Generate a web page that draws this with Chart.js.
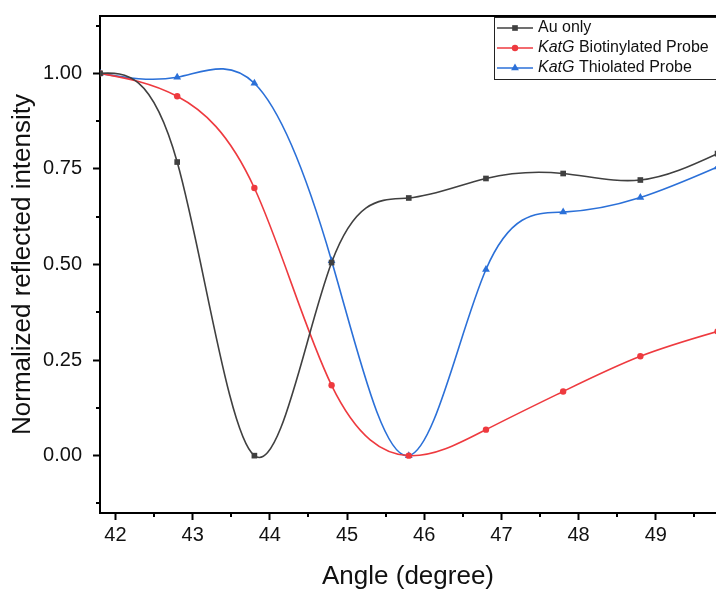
<!DOCTYPE html>
<html>
<head>
<meta charset="utf-8">
<script src="https://cdn.jsdelivr.net/npm/chart.js"></script>
<style>
  html, body { margin: 0; padding: 0; background: #fff; overflow: hidden; }
  #wrap { width: 716px; height: 590px; position: relative; }
  canvas { display: block; }
</style>
</head>
<body>
<div id="wrap"><canvas id="c" width="716" height="590"></canvas></div>
<script>
// ---- data ----
const angles       = [41.8, 42.8, 43.8, 44.8, 45.8, 46.8, 47.8, 48.8, 49.8];
const auOnly       = [1.00, 0.768, 0.00, 0.505, 0.674, 0.725, 0.738, 0.721, 0.79];
const biotinylated = [1.00, 0.94, 0.70, 0.184, 0.00, 0.068, 0.168, 0.26, 0.325];
const thiolated    = [1.00, 0.99, 0.974, 0.51, 0.00, 0.487, 0.637, 0.675, 0.755];
const xTicks = [42, 43, 44, 45, 46, 47, 48, 49];
const yTicks = [0.00, 0.25, 0.50, 0.75, 1.00];
const xMinorTicks = [42.5, 43.5, 44.5, 45.5, 46.5, 47.5, 48.5, 49.5];
const yMinorTicks = [-0.125, 0.125, 0.375, 0.625, 0.875, 1.125];
const seriesNames = ['Au only', 'KatG Biotinylated Probe', 'KatG Thiolated Probe'];

const COL_AU = '#404040';
const COL_RED = '#ee3a3f';
const COL_BLUE = '#2b70d8';
const FONT = "'Liberation Sans', Arial, sans-serif";

function pts(ys) { return angles.map((a, i) => ({ x: a, y: ys[i] })); }

// slopes of a natural cubic spline through (xs, ys)
function splineSlopes(xs, ys) {
  const n = xs.length;
  const h = [];
  for (let i = 0; i < n - 1; i++) h.push(xs[i + 1] - xs[i]);
  const M = new Array(n).fill(0);
  if (n > 2) {
    const a = [], b = [], c = [], d = [];
    for (let i = 1; i < n - 1; i++) {
      a.push(h[i - 1]); b.push(2 * (h[i - 1] + h[i])); c.push(h[i]);
      d.push(6 * ((ys[i + 1] - ys[i]) / h[i] - (ys[i] - ys[i - 1]) / h[i - 1]));
    }
    const m = b.length;
    for (let i = 1; i < m; i++) {
      const w = a[i] / b[i - 1];
      b[i] -= w * c[i - 1];
      d[i] -= w * d[i - 1];
    }
    const sol = new Array(m);
    sol[m - 1] = d[m - 1] / b[m - 1];
    for (let i = m - 2; i >= 0; i--) sol[i] = (d[i] - c[i] * sol[i + 1]) / b[i];
    for (let i = 0; i < m; i++) M[i + 1] = sol[i];
  }
  const s = [];
  for (let i = 0; i < n; i++) {
    if (i < n - 1) s.push((ys[i + 1] - ys[i]) / h[i] - h[i] * (2 * M[i] + M[i + 1]) / 6);
    else s.push((ys[i] - ys[i - 1]) / h[i - 1] + h[i - 1] * (M[i - 1] + 2 * M[i]) / 6);
  }
  return s;
}

// give Chart.js's own line element spline control points (cubic spline, as in Origin)
const splinePlugin = {
  id: 'naturalSpline',
  beforeDatasetDraw(chart, args) {
    const meta = args.meta;
    if (!meta.dataset) return;
    meta.dataset.updateControlPoints(chart.chartArea, 'x');
    const xs = chart.scales.x, ys = chart.scales.y;
    const data = chart.data.datasets[args.index].data;
    const X = data.map(p => p.x), Y = data.map(p => p.y);
    const sl = splineSlopes(X, Y);
    const pointsEl = meta.data;
    for (let i = 0; i < pointsEl.length; i++) {
      const pt = pointsEl[i];
      const hp = i > 0 ? X[i] - X[i - 1] : 0;
      const hn = i < X.length - 1 ? X[i + 1] - X[i] : 0;
      pt.cp1x = xs.getPixelForValue(X[i] - hp / 3);
      pt.cp1y = ys.getPixelForValue(Y[i] - sl[i] * hp / 3);
      pt.cp2x = xs.getPixelForValue(X[i] + hn / 3);
      pt.cp2y = ys.getPixelForValue(Y[i] + sl[i] * hn / 3);
    }
    meta.dataset._pointsUpdated = true;
  }
};

function drawMarker(ctx, style, x, y, r, color) {
  ctx.save();
  ctx.fillStyle = color;
  ctx.beginPath();
  if (style === 'rect') {
    const s = r * Math.SQRT1_2;
    ctx.rect(x - s, y - s, 2 * s, 2 * s);
  } else if (style === 'circle') {
    ctx.arc(x, y, r, 0, Math.PI * 2);
  } else if (style === 'triangle') {
    ctx.moveTo(x, y - r);
    ctx.lineTo(x + r * 0.866, y + r * 0.5);
    ctx.lineTo(x - r * 0.866, y + r * 0.5);
    ctx.closePath();
  }
  ctx.fill();
  ctx.restore();
}

const framePlugin = {
  id: 'frame',
  afterDraw(chart) {
    const { ctx, chartArea } = chart;
    const xs = chart.scales.x, ys = chart.scales.y;
    ctx.save();
    // top border
    ctx.strokeStyle = '#000';
    ctx.lineWidth = 2;
    ctx.beginPath();
    ctx.moveTo(chartArea.left - 1, chartArea.top);
    ctx.lineTo(chart.width, chartArea.top);
    ctx.stroke();
    // minor ticks
    xMinorTicks.forEach(v => {
      const px = Math.round(xs.getPixelForValue(v));
      ctx.beginPath();
      ctx.moveTo(px, chartArea.bottom);
      ctx.lineTo(px, chartArea.bottom + 4);
      ctx.stroke();
    });
    yMinorTicks.forEach(v => {
      const py = Math.round(ys.getPixelForValue(v));
      ctx.beginPath();
      ctx.moveTo(chartArea.left, py);
      ctx.lineTo(chartArea.left - 4, py);
      ctx.stroke();
    });
    // legend
    const bx = 494, by = chartArea.top + 1, bh = 62;
    ctx.lineWidth = 1;
    ctx.strokeStyle = '#222';
    ctx.strokeRect(bx + 0.5, by + 0.5, chart.width + 10 - bx, bh);
    const rows = [
      { y: 28, color: COL_AU, style: 'rect', r: 4, italic: '', rest: seriesNames[0] },
      { y: 48, color: COL_RED, style: 'circle', r: 3.2, italic: 'KatG', rest: ' Biotinylated Probe' },
      { y: 68, color: COL_BLUE, style: 'triangle', r: 4.5, italic: 'KatG', rest: ' Thiolated Probe' }
    ];
    ctx.textBaseline = 'middle';
    ctx.textAlign = 'left';
    rows.forEach(r => {
      ctx.strokeStyle = r.color;
      ctx.lineWidth = 1.5;
      ctx.beginPath();
      ctx.moveTo(497, r.y);
      ctx.lineTo(533, r.y);
      ctx.stroke();
      drawMarker(ctx, r.style, 515, r.y, r.r, r.color);
      ctx.fillStyle = '#111';
      let tx = 538;
      if (r.italic) {
        ctx.font = 'italic 16px ' + FONT;
        ctx.fillText(r.italic, tx, r.y);
        tx += ctx.measureText(r.italic).width;
      }
      ctx.font = '16px ' + FONT;
      ctx.fillText(r.rest, tx, r.y);
    });
    ctx.restore();
  }
};

const common = {
  fill: false,
  borderWidth: 1.6,
  tension: 0.4,
  cubicInterpolationMode: 'default',
  pointBorderWidth: 0
};

new Chart(document.getElementById('c'), {
  type: 'line',
  data: {
    datasets: [
      Object.assign({}, common, {
        label: seriesNames[0], data: pts(auOnly),
        borderColor: COL_AU, backgroundColor: COL_AU,
        pointStyle: 'rect', pointRadius: 4
      }),
      Object.assign({}, common, {
        label: seriesNames[1], data: pts(biotinylated),
        borderColor: COL_RED, backgroundColor: COL_RED,
        pointStyle: 'circle', pointRadius: 3.2
      }),
      Object.assign({}, common, {
        label: seriesNames[2], data: pts(thiolated),
        borderColor: COL_BLUE, backgroundColor: COL_BLUE,
        pointStyle: 'triangle', pointRadius: 4.5
      })
    ]
  },
  options: {
    responsive: false,
    animation: false,
    events: [],
    layout: { autoPadding: false, padding: { top: 16, right: 0, left: 0, bottom: 0 } },
    plugins: { legend: { display: false }, tooltip: { enabled: false } },
    scales: {
      x: {
        type: 'linear',
        min: 41.8, max: 49.78,
        afterBuildTicks: s => { s.ticks = xTicks.map(v => ({ value: v })); },
        afterFit: s => { s.height = 77; s.paddingLeft = 0; s.paddingRight = 0; },
        grid: { drawOnChartArea: false, drawTicks: true, tickLength: 7, tickWidth: 2, tickColor: '#000' },
        border: { display: true, color: '#000', width: 2 },
        ticks: { color: '#111', font: { family: FONT, size: 20 }, padding: 3, maxRotation: 0, autoSkip: false,
                 callback: v => String(v) },
        title: { display: true, text: 'Angle (degree)', color: '#111',
                 font: { family: FONT, size: 26 }, padding: { top: 0, bottom: -2 } }
      },
      y: {
        type: 'linear',
        min: -0.15, max: 1.15,
        afterBuildTicks: s => { s.ticks = yTicks.map(v => ({ value: v })); },
        afterFit: s => { s.width = 100; s.paddingTop = 0; s.paddingBottom = 0; },
        grid: { drawOnChartArea: false, drawTicks: true, tickLength: 7, tickWidth: 2, tickColor: '#000' },
        border: { display: true, color: '#000', width: 2 },
        ticks: { color: '#111', font: { family: FONT, size: 20 }, padding: 11, autoSkip: false,
                 callback: v => Number(v).toFixed(2) },
        title: { display: true, text: 'Normalized reflected intensity', color: '#111',
                 font: { family: FONT, size: 26 }, padding: { top: 7, bottom: 0 } }
      }
    }
  },
  plugins: [splinePlugin, framePlugin]
});
</script>
</body>
</html>
